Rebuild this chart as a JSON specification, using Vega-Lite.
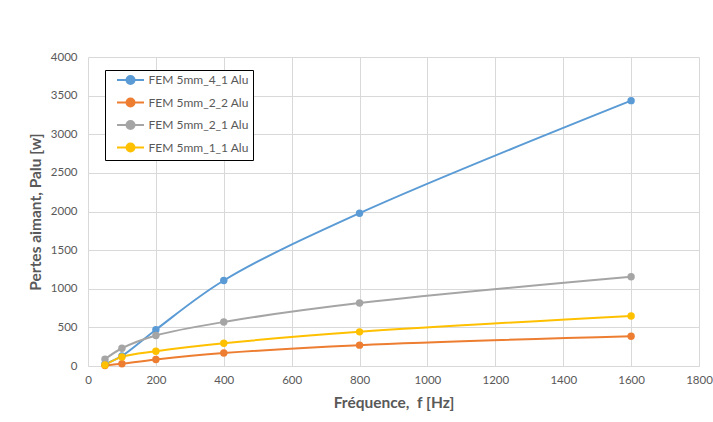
{
  "$schema": "https://vega.github.io/schema/vega-lite/v6.json",
  "width": 611,
  "height": 309,
  "autosize": "none",
  "padding": {"left": 88, "top": 57, "right": 14, "bottom": 56},
  "background": "white",
  "config": {
    "font": "Lato",
    "view": {"stroke": null},
    "axis": {
      "labelFont": "Lato", "labelFontSize": 11.5, "labelColor": "#595959",
      "titleFont": "Lato", "titleFontSize": 15.5, "titleColor": "#595959", "titleFontWeight": "bold",
      "gridColor": "#D9D9D9", "gridWidth": 1, "ticks": false, "domainColor": "#D9D9D9",
      "labelFlush": false
    }
  },
  "data": {
    "values": [
      {"s": "FEM 5mm_4_1 Alu", "f": 50, "p": 25},
      {"s": "FEM 5mm_4_1 Alu", "f": 100, "p": 130},
      {"s": "FEM 5mm_4_1 Alu", "f": 200, "p": 470},
      {"s": "FEM 5mm_4_1 Alu", "f": 400, "p": 1107},
      {"s": "FEM 5mm_4_1 Alu", "f": 800, "p": 1978},
      {"s": "FEM 5mm_4_1 Alu", "f": 1600, "p": 3435},
      {"s": "FEM 5mm_2_2 Alu", "f": 50, "p": 5},
      {"s": "FEM 5mm_2_2 Alu", "f": 100, "p": 30},
      {"s": "FEM 5mm_2_2 Alu", "f": 200, "p": 85},
      {"s": "FEM 5mm_2_2 Alu", "f": 400, "p": 168},
      {"s": "FEM 5mm_2_2 Alu", "f": 800, "p": 270},
      {"s": "FEM 5mm_2_2 Alu", "f": 1600, "p": 385},
      {"s": "FEM 5mm_2_1 Alu", "f": 50, "p": 88},
      {"s": "FEM 5mm_2_1 Alu", "f": 100, "p": 230},
      {"s": "FEM 5mm_2_1 Alu", "f": 200, "p": 395},
      {"s": "FEM 5mm_2_1 Alu", "f": 400, "p": 570},
      {"s": "FEM 5mm_2_1 Alu", "f": 800, "p": 815},
      {"s": "FEM 5mm_2_1 Alu", "f": 1600, "p": 1155},
      {"s": "FEM 5mm_1_1 Alu", "f": 50, "p": 12},
      {"s": "FEM 5mm_1_1 Alu", "f": 100, "p": 118},
      {"s": "FEM 5mm_1_1 Alu", "f": 200, "p": 192},
      {"s": "FEM 5mm_1_1 Alu", "f": 400, "p": 295},
      {"s": "FEM 5mm_1_1 Alu", "f": 800, "p": 442},
      {"s": "FEM 5mm_1_1 Alu", "f": 1600, "p": 648}
    ]
  },
  "encoding": {
    "x": {
      "field": "f", "type": "quantitative",
      "scale": {"domain": [0, 1800], "nice": false},
      "axis": {"values": [0, 200, 400, 600, 800, 1000, 1200, 1400, 1600, 1800], "title": "Fréquence,\u00a0 f [Hz]", "labelPadding": 8, "titlePadding": 10, "format": "d"}
    },
    "y": {
      "field": "p", "type": "quantitative",
      "scale": {"domain": [0, 4000], "nice": false},
      "axis": {"values": [0, 500, 1000, 1500, 2000, 2500, 3000, 3500, 4000], "title": "Pertes aimant, Palu [w]", "labelPadding": 11, "titlePadding": 7, "format": "d", "domain": false}
    },
    "color": {
      "field": "s", "type": "nominal",
      "scale": {
        "domain": ["FEM 5mm_4_1 Alu", "FEM 5mm_2_2 Alu", "FEM 5mm_2_1 Alu", "FEM 5mm_1_1 Alu"],
        "range": ["#5B9BD5", "#ED7D31", "#A5A5A5", "#FFC000"]
      },
      "legend": {
        "title": null,
        "orient": "none", "legendX": 17, "legendY": 13,
        "strokeColor": "#000000", "fillColor": "white", "padding": 4,
        "labelFont": "Lato", "labelFontSize": 12, "labelColor": "#595959", "labelOffset": 12,
        "symbolType": "M -2.7 0 L 2.7 0 M 0.8 0 A 0.8 0.8 0 1 1 -0.8 0 A 0.8 0.8 0 1 1 0.8 0 Z",
        "symbolSize": 100, "symbolStrokeWidth": 2, "symbolOffset": 15.5,
        "rowPadding": 6.5,
        "encode": {"symbols": {"update": {
          "fill": {"scale": "color", "field": "value"},
          "stroke": {"scale": "color", "field": "value"},
          "strokeWidth": {"value": 2},
          "opacity": {"value": 1}
        }}}
      }
    }
  },
  "layer": [
    {"mark": {"type": "line", "strokeWidth": 2, "interpolate": "catmull-rom"}},
    {"mark": {"type": "point", "filled": true, "size": 55, "opacity": 1}}
  ]
}
